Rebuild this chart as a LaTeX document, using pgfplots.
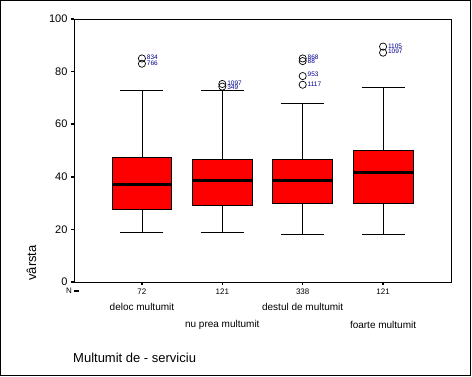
\documentclass[border=0pt]{standalone}
\usepackage{pgfplots}
\usepackage{pgfplotstable}
\pgfplotsset{compat=1.18}
\usepackage{fontspec}
\setmainfont{Liberation Sans}
\newcommand{\fsz}[1]{\fontsize{#1}{#1}\selectfont}
% pos  lower-whisker  Q1  median  Q3  upper-whisker
\pgfplotstableread{
pos lw q1 med q3 uw
1 19 27.6 37.0 47.5 73
2 19 29.0 38.6 46.8 73
3 18 30.0 38.7 46.8 68
4 18 30.0 41.8 50.0 74
}\stats
\pgfplotstableread{
pos y
1 85.0
1 83.0
2 75.3
2 74.3
3 85.0
3 84.0
3 78.3
3 75.0
4 89.5
4 87.2
}\outliers
\begin{document}
\begin{tikzpicture}
\path[use as bounding box] (0pt,0pt) rectangle (472pt,377pt);
\draw[line width=1pt] (0.5pt,1.5pt) rectangle (470.5pt,376.5pt);
\begin{axis}[at={(74pt,95pt)}, anchor=south west, scale only axis,
  width=377pt, height=263pt,
  xmin=0.155, xmax=4.845, ymin=0, ymax=100,
  ytick={0,20,...,100}, xtick={1,2,3,4}, xticklabels={72,121,338,121},
  tick align=outside, major tick length=3pt,
  xtick pos=bottom, ytick pos=left,
  axis line style={line width=0.8pt},
  xtick style={line width=1.6pt, black},
  ytick style={line width=1.6pt, black},
  /pgf/number format/assume math mode=true,
  yticklabel style={font=\fsz{11}, black},
  xticklabel style={font=\fsz{8}, black},
  clip=false,
]
% whiskers with caps
\addplot[draw=none, mark=none, forget plot,
  error bars/.cd, y dir=both, y explicit,
  error bar style={black, line width=0.8pt},
  error mark=|, error mark options={black, line width=0.8pt, mark size=21.5pt}]
  table[x=pos, y=med, y error plus expr=\thisrow{uw}-\thisrow{med},
        y error minus expr=\thisrow{med}-\thisrow{lw}] {\stats};
% boxes (Q1 to Q3, half width 0.3725)
\addplot[fill=red, draw=black, line width=0.8pt, mark=none]
  coordinates {(0.6275,27.6) (1.3725,27.6) (1.3725,47.5) (0.6275,47.5)} -- cycle;
\addplot[fill=red, draw=black, line width=0.8pt, mark=none]
  coordinates {(1.6275,29.0) (2.3725,29.0) (2.3725,46.8) (1.6275,46.8)} -- cycle;
\addplot[fill=red, draw=black, line width=0.8pt, mark=none]
  coordinates {(2.6275,30.0) (3.3725,30.0) (3.3725,46.8) (2.6275,46.8)} -- cycle;
\addplot[fill=red, draw=black, line width=0.8pt, mark=none]
  coordinates {(3.6275,30.0) (4.3725,30.0) (4.3725,50.0) (3.6275,50.0)} -- cycle;
% medians
\addplot[only marks, mark=-, mark size=29.6pt, mark options={black, line width=3pt}]
  table[x=pos, y=med] {\stats};
% outliers
\addplot[only marks, mark=o, mark size=3.6pt, mark options={black, line width=0.7pt}]
  table[x=pos, y=y] {\outliers};
% outlier case labels
\begin{scope}[every node/.style={font=\fsz{6.5}, text=blue!55!black, inner sep=0pt, anchor=west}]
\node at (axis cs:1.06,85.6) {834};
\node at (axis cs:1.06,83.2) {766};
\node at (axis cs:2.06,75.6) {1097};
\node at (axis cs:2.06,74.0) {349};
\node at (axis cs:3.06,85.3) {868};
\node at (axis cs:3.06,84.0) {88};
\node at (axis cs:3.06,79.0) {953};
\node at (axis cs:3.06,75.0) {1117};
\node at (axis cs:4.06,89.8) {1105};
\node at (axis cs:4.06,87.6) {1097};
\end{scope}
\begin{scope}[every node/.style={font=\fsz{10}, text=black, inner sep=0pt}]
\node at (axis cs:1,-9.4) {deloc multumit};
\node at (axis cs:3,-9.4) {destul de multumit};
\node at (axis cs:2,-16.3) {nu prea multumit};
\node at (axis cs:4,-16.3) {foarte multumit};
\end{scope}
\end{axis}
\node[font=\fsz{8}, anchor=west, inner sep=0pt] at (66pt,86pt) {N};
\draw[line width=1.6pt] (74pt,86pt) -- (79pt,86pt);
\node[font=\fsz{13}, rotate=90, inner sep=0pt] at (31.5pt,114pt) {vârsta};
\node[font=\fsz{13}, anchor=west, inner sep=0pt] at (73pt,19pt) {Multumit de - serviciu};
\end{tikzpicture}
\end{document}
